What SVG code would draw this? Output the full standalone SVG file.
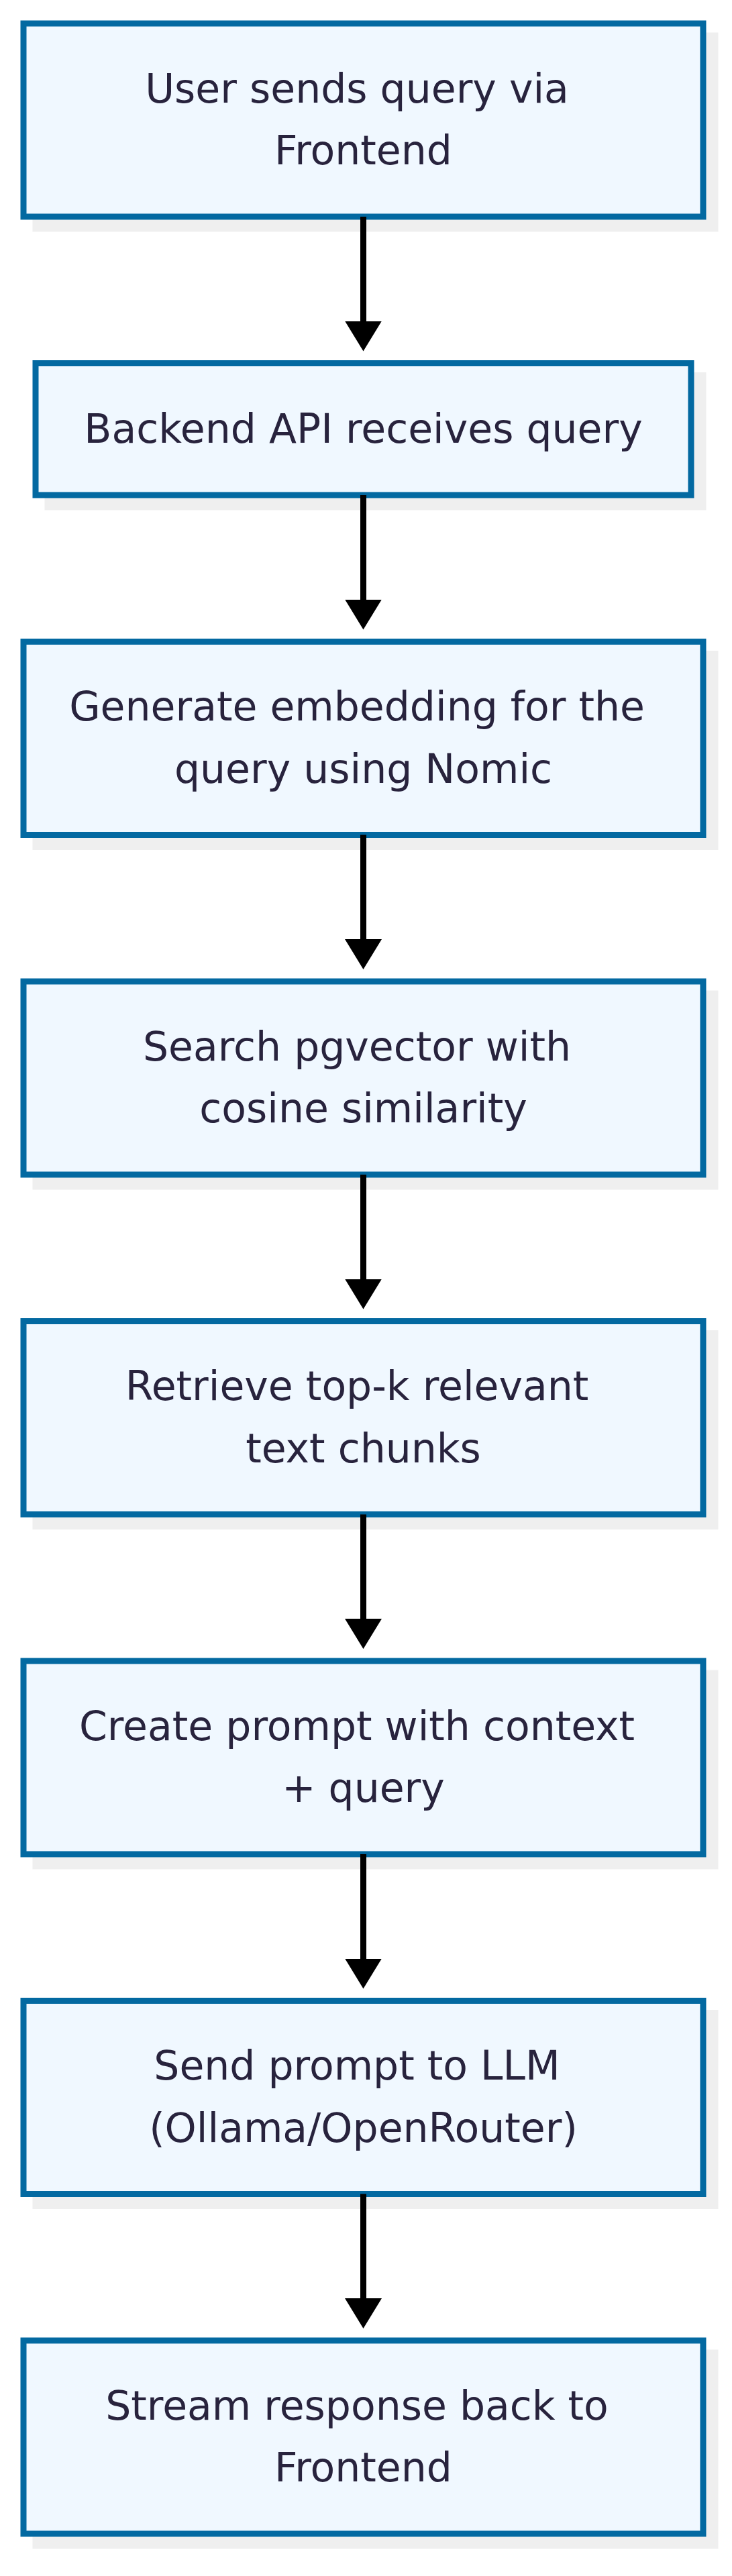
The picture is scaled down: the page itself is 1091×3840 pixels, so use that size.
<svg xmlns="http://www.w3.org/2000/svg" width="1091" height="3840" viewBox="0 0 1091 3840">
<style>
.shadow{fill:#efefef;stroke:#efefef;stroke-width:9}
.box{fill:#f0f8ff;stroke:#0369a1;stroke-width:9}
.lbl{font-family:"DejaVu Sans",sans-serif;font-size:60px;fill:#28233d;text-anchor:middle}
.edge{stroke:#000;stroke-width:9;fill:none}
</style>
<defs>
<marker id="arrow" markerUnits="userSpaceOnUse" viewBox="0 0 45 55" markerWidth="45" markerHeight="55" refX="2" refY="27.5" orient="auto">
<path d="M0,0 L45,27.5 L0,55 Z" fill="#000"/>
</marker>
</defs>
<rect width="1091" height="3840" fill="#fff"/>
<g id="n1"><rect class="shadow" x="53" y="53" width="1013" height="288"/><rect class="box" x="35" y="35" width="1013" height="288"/><text class="lbl" x="532" y="152.7">User sends query via</text><text class="lbl" x="541.5" y="245">Frontend</text></g>
<g id="n2"><rect class="shadow" x="71" y="559.5" width="977" height="196.5"/><rect class="box" x="53" y="541.5" width="977" height="196.5"/><text class="lbl" x="541.5" y="659.5">Backend API receives query</text></g>
<g id="n3"><rect class="shadow" x="53" y="974.5" width="1013" height="288"/><rect class="box" x="35" y="956.5" width="1013" height="288"/><text class="lbl" x="532" y="1074.2">Generate embedding for the</text><text class="lbl" x="541.5" y="1166.5">query using Nomic</text></g>
<g id="n4"><rect class="shadow" x="53" y="1481" width="1013" height="288"/><rect class="box" x="35" y="1463" width="1013" height="288"/><text class="lbl" x="532" y="1580.7">Search pgvector with</text><text class="lbl" x="541.5" y="1673">cosine similarity</text></g>
<g id="n5"><rect class="shadow" x="53" y="1987.5" width="1013" height="288"/><rect class="box" x="35" y="1969.5" width="1013" height="288"/><text class="lbl" x="532" y="2087.2">Retrieve top-k relevant</text><text class="lbl" x="541.5" y="2179.5">text chunks</text></g>
<g id="n6"><rect class="shadow" x="53" y="2494" width="1013" height="288"/><rect class="box" x="35" y="2476" width="1013" height="288"/><text class="lbl" x="532" y="2593.7">Create prompt with context</text><text class="lbl" x="541.5" y="2686">+ query</text></g>
<g id="n7"><rect class="shadow" x="53" y="3000.5" width="1013" height="288"/><rect class="box" x="35" y="2982.5" width="1013" height="288"/><text class="lbl" x="532" y="3100.2">Send prompt to LLM</text><text class="lbl" x="541.5" y="3192.5">(Ollama/OpenRouter)</text></g>
<g id="n8"><rect class="shadow" x="53" y="3507" width="1013" height="288"/><rect class="box" x="35" y="3489" width="1013" height="288"/><text class="lbl" x="532" y="3606.7">Stream response back to</text><text class="lbl" x="541.5" y="3699">Frontend</text></g>
<g id="connectors">
<line class="edge" x1="541.5" y1="323" x2="541.5" y2="480.5" marker-end="url(#arrow)"/>
<line class="edge" x1="541.5" y1="738" x2="541.5" y2="895.5" marker-end="url(#arrow)"/>
<line class="edge" x1="541.5" y1="1244.5" x2="541.5" y2="1402" marker-end="url(#arrow)"/>
<line class="edge" x1="541.5" y1="1751" x2="541.5" y2="1908.5" marker-end="url(#arrow)"/>
<line class="edge" x1="541.5" y1="2257.5" x2="541.5" y2="2415" marker-end="url(#arrow)"/>
<line class="edge" x1="541.5" y1="2764" x2="541.5" y2="2921.5" marker-end="url(#arrow)"/>
<line class="edge" x1="541.5" y1="3270.5" x2="541.5" y2="3428" marker-end="url(#arrow)"/>
</g>
</svg>
